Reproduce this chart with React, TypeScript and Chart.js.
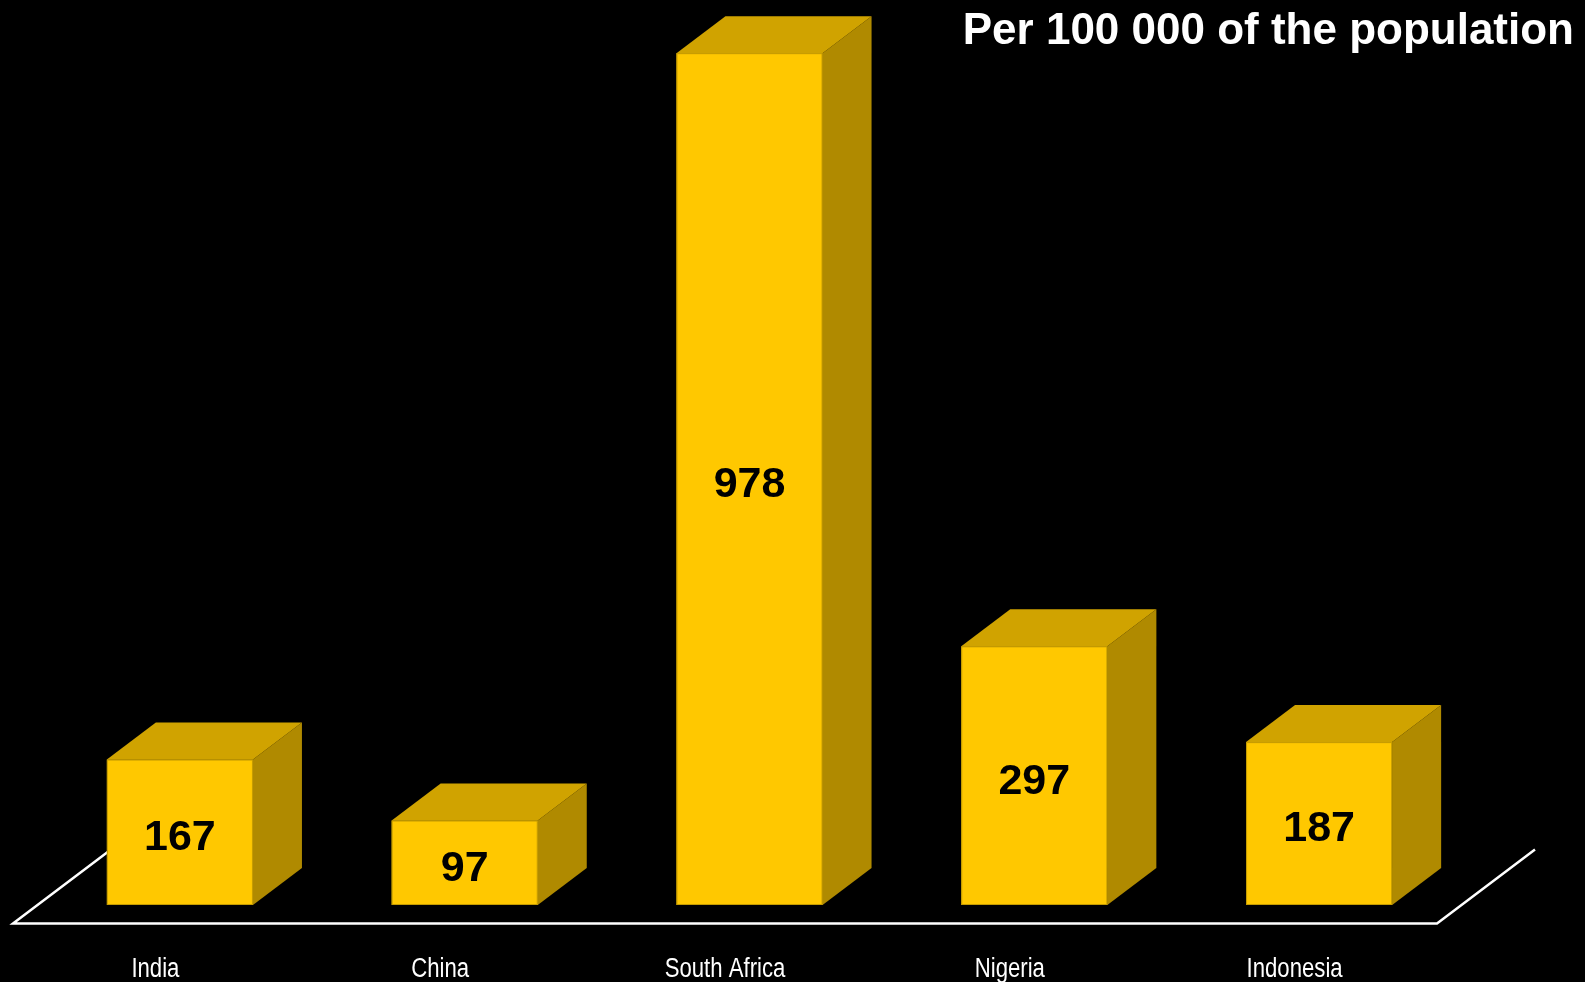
import React, { useEffect, useRef } from "react";
import { Chart, registerables } from "chart.js";

Chart.register(...registerables);

const categories = ["India", "China", "South Africa", "Nigeria", "Indonesia"];
const values = [167, 97, 978, 297, 187];
const titleText = "Per 100 000 of the population";

const FRONT = "#FFC800";
const TOP = "#D0A300";
const SIDE = "#B08A00";
const EDGE = "#C49B00";
// 3D depth styling
const FLOOR_DX = 98;
const FLOOR_DY = -74;
const NARROW = 0.82;

const threeD = {
  id: "threeD",
  beforeDatasetsDraw(chart: any) {
    const { ctx, chartArea } = chart;
    const yBase = chart.scales.y.getPixelForValue(0);
    ctx.save();
    ctx.strokeStyle = "#FFFFFF";
    ctx.lineWidth = 2.5;
    ctx.lineJoin = "miter";
    ctx.beginPath();
    ctx.moveTo(chartArea.left + FLOOR_DX, yBase + FLOOR_DY);
    ctx.lineTo(chartArea.left, yBase);
    ctx.lineTo(chartArea.right, yBase);
    ctx.lineTo(chartArea.right + FLOOR_DX, yBase + FLOOR_DY);
    ctx.stroke();
    ctx.restore();
  },
  afterDatasetsDraw(chart: any) {
    const { ctx } = chart;
    const meta = chart.getDatasetMeta(0);
    const xScale = chart.scales.x;
    const yBase = chart.scales.y.getPixelForValue(0);
    const fx = FLOOR_DX / 4;
    const fy = FLOOR_DY / 4;
    const dx = FLOOR_DX / 2;
    const dy = FLOOR_DY / 2;
    ctx.save();
    meta.data.forEach((bar: any, i: number) => {
      const w = bar.width;
      const left = bar.x - w / 2 + fx;
      const right = bar.x + w / 2 + fx;
      const top = bar.y + fy;
      const bottom = bar.base + fy;
      // side
      ctx.fillStyle = SIDE;
      ctx.beginPath();
      ctx.moveTo(right, top);
      ctx.lineTo(right + dx, top + dy);
      ctx.lineTo(right + dx, bottom + dy);
      ctx.lineTo(right, bottom);
      ctx.closePath();
      ctx.fill();
      // top
      ctx.fillStyle = TOP;
      ctx.beginPath();
      ctx.moveTo(left, top);
      ctx.lineTo(left + dx, top + dy);
      ctx.lineTo(right + dx, top + dy);
      ctx.lineTo(right, top);
      ctx.closePath();
      ctx.fill();
      // front
      ctx.fillStyle = FRONT;
      ctx.fillRect(left, top, w, bottom - top);
      ctx.strokeStyle = EDGE;
      ctx.lineWidth = 1;
      ctx.strokeRect(left + 0.5, top + 0.5, w - 1, bottom - top - 1);
      // value label
      ctx.fillStyle = "#000000";
      ctx.font = "bold 43px 'Liberation Sans', Arial, sans-serif";
      ctx.textAlign = "center";
      ctx.textBaseline = "middle";
      ctx.fillText(String(values[i]), (left + right) / 2, (top + bottom) / 2 + 6);
    });
    // category labels (condensed, Arial Narrow look), positioned by the x scale
    ctx.fillStyle = "#FFFFFF";
    ctx.font = "27px 'Liberation Sans', Arial, sans-serif";
    ctx.textAlign = "center";
    ctx.textBaseline = "alphabetic";
    categories.forEach((c, i) => {
      const x = xScale.getPixelForValue(i);
      ctx.save();
      ctx.translate(x, yBase + 53);
      ctx.scale(NARROW, 1);
      ctx.fillText(c, 0, 0);
      ctx.restore();
    });
    // title
    ctx.fillStyle = "#FFFFFF";
    ctx.font = "bold 44px 'Liberation Sans', Arial, sans-serif";
    ctx.textAlign = "right";
    ctx.textBaseline = "alphabetic";
    ctx.fillText(titleText, 1574, 44);
    ctx.restore();
  },
};

export default function App() {
  const ref = useRef<HTMLCanvasElement | null>(null);
  useEffect(() => {
    document.body.style.margin = "0";
    document.body.style.background = "#000";
    const canvas = ref.current!;
    const chart = new Chart(canvas, {
      type: "bar",
      data: {
        labels: categories,
        datasets: [
          {
            data: values,
            backgroundColor: "rgba(0,0,0,0)",
            borderWidth: 0,
            barPercentage: 1,
            categoryPercentage: 0.513,
          },
        ],
      },
      plugins: [threeD],
      options: {
        responsive: false,
        animation: false,
        maintainAspectRatio: false,
        layout: { padding: { left: 13, right: 148, top: 52.5, bottom: 58.5 } },
        plugins: {
          legend: { display: false },
          tooltip: { enabled: false },
          title: { display: false },
        },
        scales: {
          x: {
            display: false,
            grid: { display: false },
          },
          y: {
            display: false,
            min: 0,
            max: 1000,
          },
        },
      },
    });
    return () => chart.destroy();
  }, []);
  return (
    <div style={{ width: 1585, height: 982, background: "#000" }}>
      <canvas ref={ref} width={1585} height={982} style={{ display: "block", width: 1585, height: 982 }} />
    </div>
  );
}
